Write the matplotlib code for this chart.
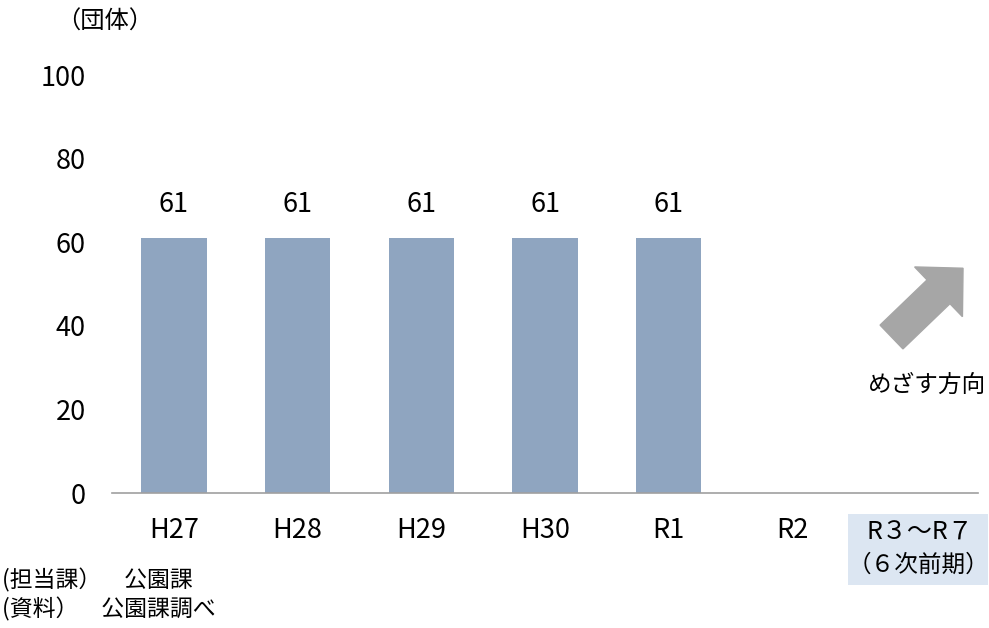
import matplotlib
matplotlib.use('Agg')
import matplotlib.pyplot as plt
import matplotlib.patches as mpatches
from matplotlib.transforms import IdentityTransform

plt.rcParams['font.family'] = ['Noto Sans CJK JP', 'DejaVu Sans']

# data
categories = ['H27', 'H28', 'H29', 'H30', 'R1', 'R2', 'R３～R７\n（６次前期）']
values = [61, 61, 61, 61, 61, None, None]
y_ticks = [0, 20, 40, 60, 80, 100]
unit_label = '（団体）'
target_label = 'めざす方向'
notes = ['(担当課）　公園課', '(資料）　公園課調べ']

bar_color = '#8FA5C0'
W, H = 989, 628

fig = plt.figure(figsize=(W / 100, H / 100), dpi=100)
ax = fig.add_axes([112 / W, (H - 493) / H, (978 - 112) / W, (493 - 75) / H])

xs = list(range(len(categories)))
bx = [x for x, v in zip(xs, values) if v is not None]
bv = [v for v in values if v is not None]
ax.bar(bx, bv, width=0.53, color=bar_color, zorder=2)
for x, v in zip(bx, bv):
    ax.text(x, v + 8, str(v), ha='center', va='center', fontsize=19.5)

ax.set_xlim(-0.5, len(categories) - 0.5)
ax.set_ylim(0, 100)
ax.set_yticks(y_ticks)
ax.tick_params(axis='y', length=0, labelsize=19.5, pad=19)
ax.set_xticks(xs[:-1])
ax.set_xticklabels(categories[:-1])
ax.tick_params(axis='x', length=0, labelsize=19.5, pad=17)

for s in ['left', 'right', 'top']:
    ax.spines[s].set_visible(False)
ax.spines['bottom'].set_color('#A0A0A0')
ax.spines['bottom'].set_linewidth(1.2)

# last category label with shaded box (display pixels)
box = mpatches.Rectangle((848, H - 585), 140, 71, facecolor='#DCE6F2',
                         edgecolor='none', transform=IdentityTransform())
fig.patches.append(box)
line1, line2 = categories[-1].split('\n')
fig.text(920 / W, 1 - 533 / H, line1, ha='center', va='center', fontsize=18)
fig.text(918 / W, 1 - 565 / H, line2, ha='center', va='center', fontsize=17)

# arrow (display pixels)
arrow = mpatches.FancyArrow(891.5, H - 337, 71.5 - 34 * 0.72, 69 - 34 * 0.70,
                            width=33, head_width=69, head_length=34,
                            length_includes_head=False, color='#A6A6A6',
                            transform=IdentityTransform())
fig.patches.append(arrow)

fig.text(927 / W, 1 - 385 / H, target_label, ha='center', va='center', fontsize=17)
fig.text(105 / W, 1 - 22 / H, unit_label, ha='center', va='center', fontsize=17.5)
fig.text(2 / W, 1 - 580 / H, notes[0], ha='left', va='center', fontsize=16.5)
fig.text(2 / W, 1 - 609 / H, notes[1], ha='left', va='center', fontsize=16.5)

fig.savefig('out.png', dpi=100)
